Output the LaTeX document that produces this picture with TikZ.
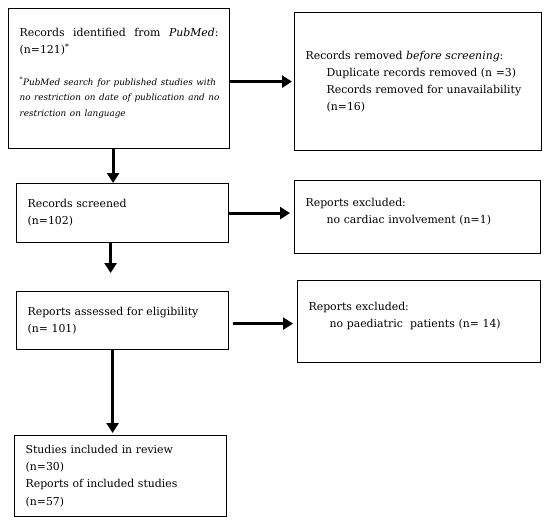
\documentclass[tikz,border=0pt]{standalone}
\usepackage{tikz}
\usepackage{fontspec}
\setmainfont{DejaVu Serif}
\usetikzlibrary{arrows.meta}

\tikzset{
  flowbox/.style={draw, line width=1.2pt, anchor=north west, align=left,
    inner xsep=11pt, inner ysep=4pt,
    font=\fontsize{10.9}{17.2}\selectfont},
  flowarrow/.style={line width=3.2pt, -{Triangle[length=10pt,width=12pt]}}
}
\newcommand{\padbelow}[1]{\par\vspace*{#1}\hrule height 0pt}

\begin{document}
\begin{tikzpicture}[x=1pt, y=-1pt]

\useasboundingbox (0,0) rectangle (550,523);

% boxes on the left
\node[flowbox, minimum width=221pt, minimum height=140pt, text width=199pt] (identified) at (8,8)
{Records\hfill identified\hfill from\hfill \emph{PubMed}:\\
(n=121)\textsuperscript{*}\par\vspace{16pt}
{\fontsize{8.8}{15.5}\selectfont\itshape
\makebox[199pt][s]{\textsuperscript{*}PubMed search for published studies with}\\
\makebox[199pt][s]{no restriction on date of publication and no}\\
restriction on language\par}\padbelow{11pt}};

\node[flowbox, minimum width=212pt, minimum height=59pt, text width=190pt] (screened) at (16,183)
{Records screened\\(n=102)};

\node[flowbox, minimum width=212pt, minimum height=58pt, text width=190pt] (assessed) at (16,291)
{Reports assessed for eligibility\\(n= 101)};

\node[flowbox, minimum width=212pt, minimum height=81pt, text width=190pt] (included) at (14,435)
{Studies included in review\\(n=30)\\Reports of included studies\\(n=57)};

% boxes on the right
\node[flowbox, minimum width=247pt, minimum height=138pt, text width=225pt] (removed) at (294,12)
{Records removed \emph{before screening}:\\
\hspace*{21pt}Duplicate records removed (n =3)\\
\hspace*{21pt}Records removed for unavailability\\
\hspace*{21pt}(n=16)};

\node[flowbox, minimum width=246pt, minimum height=73pt, text width=224pt] (cardiac) at (294,180)
{Reports excluded:\\
\hspace*{21pt}no cardiac involvement (n=1)\padbelow{10pt}};

\node[flowbox, minimum width=243pt, minimum height=82pt, text width=221pt] (paediatric) at (297,280)
{Reports excluded:\\
\hspace*{21pt}no paediatric\ \ patients (n= 14)\padbelow{12pt}};

% arrows
\draw[flowarrow, shorten >=2pt] (removed.west -| identified.east) -- (removed.west);
\draw[flowarrow] ([xshift=-6pt]identified.south) -- ([xshift=-6pt]identified.south |- screened.north);
\draw[flowarrow, shorten >=4pt] (screened.east) -- (screened.east -| cardiac.west);
\draw[flowarrow] ([xshift=-12pt]screened.south) -- ([xshift=-12pt,yshift=18pt]assessed.north);
\draw[flowarrow, shorten <=4pt, shorten >=4pt] ([yshift=-3pt]assessed.east) -- ([yshift=-3pt]assessed.east -| paediatric.west);
\draw[flowarrow, shorten >=2pt] ([xshift=-10pt]assessed.south) -- ([xshift=-10pt]assessed.south |- included.north);

\end{tikzpicture}
\end{document}
